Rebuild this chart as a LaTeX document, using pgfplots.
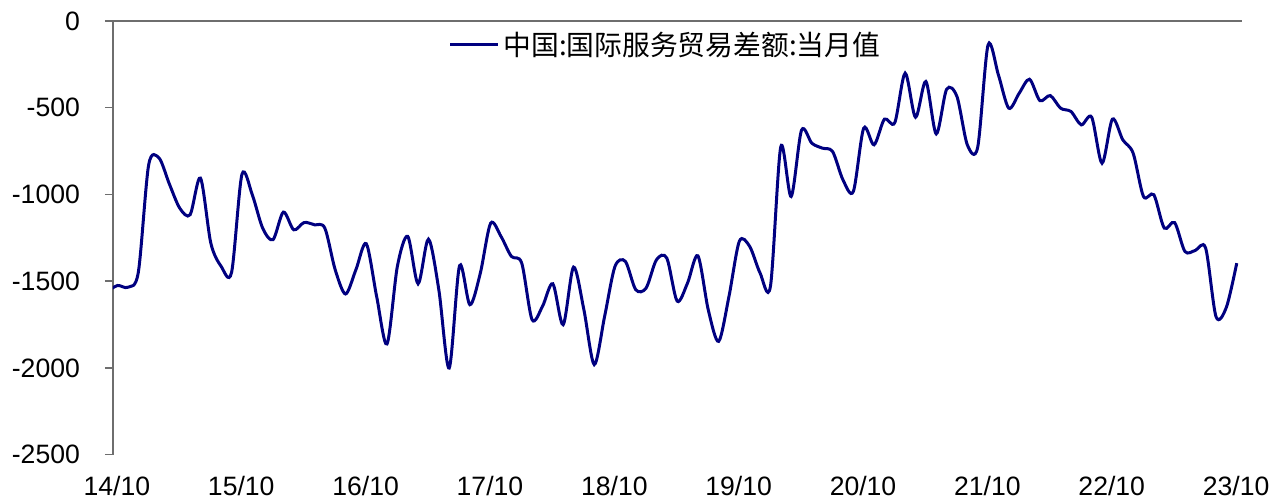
\documentclass[border=0pt]{standalone}
\usepackage{pgfplots}
\pgfplotsset{compat=1.18}
\usepackage{fontspec}
\setmainfont{Liberation Sans}
\newfontfamily\cjk{Noto Sans CJK SC}
\definecolor{navyline}{RGB}{0,0,128}
\definecolor{axisgray}{RGB}{110,110,110}

% monthly values, point k sits at x = k (ticks at 12j+0.55)
\pgfplotstableread{
k v
0 -1560
1 -1525
2 -1535
3 -1450
4 -830
5 -790
6 -940
7 -1079
8 -1117
9 -906
10 -1281
11 -1415
12 -1450
13 -885
14 -1002
15 -1194
16 -1261
17 -1102
18 -1204
19 -1162
20 -1175
21 -1194
22 -1434
23 -1574
24 -1434
25 -1284
26 -1588
27 -1862
28 -1415
29 -1242
30 -1515
31 -1258
32 -1549
33 -2001
34 -1411
35 -1636
36 -1455
37 -1166
38 -1242
39 -1357
40 -1396
41 -1722
42 -1646
43 -1515
44 -1751
45 -1419
46 -1665
47 -1981
48 -1703
49 -1415
50 -1386
51 -1549
52 -1540
53 -1377
54 -1367
55 -1615
56 -1511
57 -1354
58 -1665
59 -1847
60 -1588
61 -1270
62 -1300
63 -1453
64 -1530
65 -725
66 -1012
67 -630
68 -705
69 -733
70 -753
71 -916
72 -983
73 -618
74 -714
75 -566
76 -586
77 -301
78 -555
79 -349
80 -651
81 -394
82 -436
83 -714
84 -728
85 -138
86 -311
87 -503
88 -417
89 -336
90 -459
91 -430
92 -503
93 -522
94 -599
95 -555
96 -820
97 -566
98 -685
99 -762
100 -1012
101 -1002
102 -1194
103 -1162
104 -1329
105 -1323
106 -1310
107 -1705
108 -1650
109 -1396
}\balance

\begin{document}
\begin{tikzpicture}
\begin{axis}[
  scale only axis,
  width=565pt, height=217pt,
  xmin=0.55, xmax=109.5,
  ymin=-2500, ymax=0,
  axis x line*=bottom,
  axis y line*=left,
  axis line style={-, draw=axisgray, line width=0.8pt},
  x axis line style={draw=none},
  xtick={0.55,12.55,24.55,36.55,48.55,60.55,72.55,84.55,96.55,108.55},
  xticklabels={14/10,15/10,16/10,17/10,18/10,19/10,20/10,21/10,22/10,23/10},
  xtick style={draw=none},
  ytick={-2500,-2000,-1500,-1000,-500,0},
  yticklabels={-2500,-2000,-1500,-1000,-500,0},
  ytick style={draw=axisgray, line width=0.8pt},
  tick align=outside,
  major tick length=4pt,
  tick label style={font=\fontsize{13.3}{16}\selectfont, text=black},
  xticklabel style={yshift=-3.5pt, xshift=2pt},
  yticklabel style={xshift=-9pt},
  legend style={at={(rel axis cs:0.297,0.945)}, anchor=west, draw=none,
    fill=none, inner sep=0pt, font=\cjk\fontsize{13.9}{16}\selectfont},
  legend image code/.code={\draw[#1] (0pt,0pt) -- (24pt,0pt);},
  legend cell align=left,
]
  \addplot[navyline, line width=1.5pt, smooth] table[x=k, y=v] {\balance};
  \addlegendentry{中国:国际服务贸易差额:当月值}
  % top axis line with inward ticks
  \draw[axisgray, line width=0.8pt] ([xshift=-4pt]axis cs:0.55,0) -- (axis cs:109.5,0);
  \pgfplotsinvokeforeach{0.55,12.55,24.55,36.55,48.55,60.55,72.55,84.55,96.55,108.55}{
    \draw[axisgray, line width=0.8pt] (axis cs:#1,0) -- ++(0,-4pt);
  }
\end{axis}
\path (current axis.south west) ++(-56.5pt,-22.5pt);
\path (current axis.north east) ++(16.5pt,10.5pt);
\end{tikzpicture}
\end{document}
